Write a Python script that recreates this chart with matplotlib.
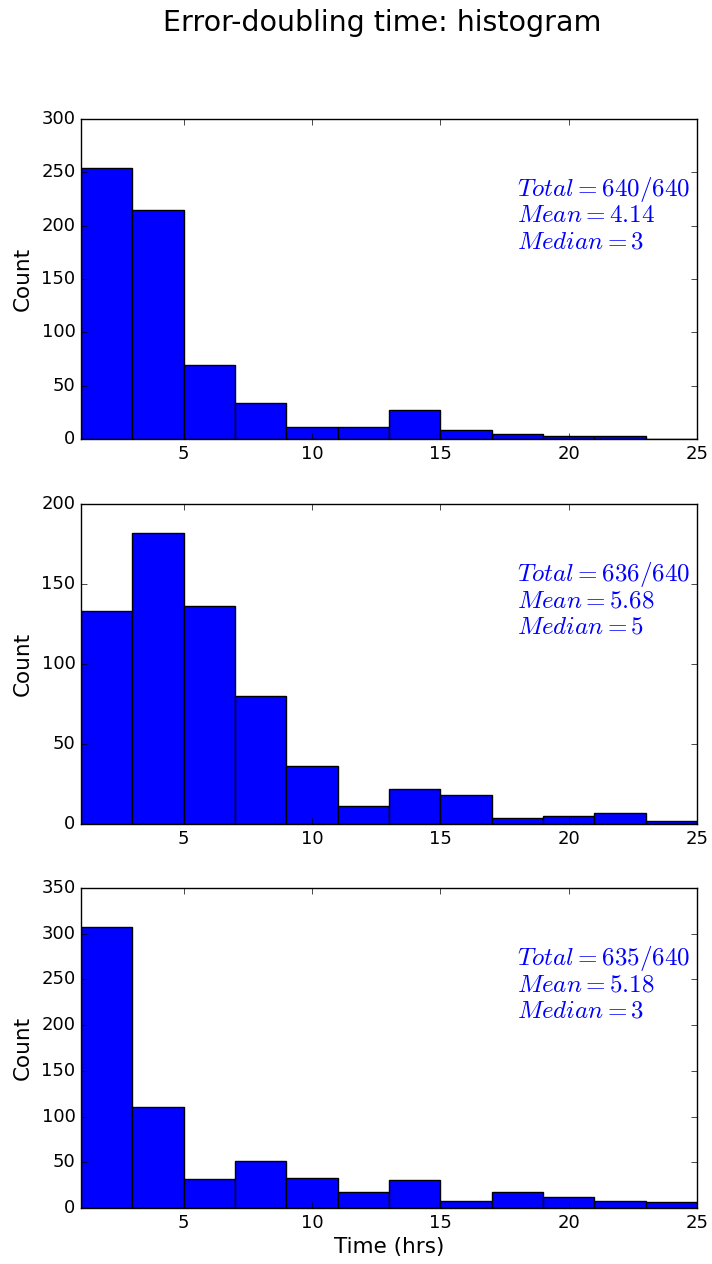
import numpy as np
import matplotlib
matplotlib.use("Agg")
import matplotlib.pyplot as plt

plt.style.use("classic")
plt.rcParams["figure.facecolor"] = "white"
plt.rcParams["savefig.facecolor"] = "white"
plt.rcParams["mathtext.fontset"] = "cm"

# Histogram bins (hours)
bin_edges = [1, 3, 5, 7, 9, 11, 13, 15, 17, 19, 21, 23, 25]

# Counts per bin for each experiment
counts_a = [254, 215, 69, 34, 11, 11, 27, 8, 5, 3, 3, 0]
counts_b = [133, 182, 136, 80, 36, 11, 22, 18, 4, 5, 7, 2]
counts_c = [307, 111, 32, 51, 33, 18, 31, 8, 17, 12, 8, 7]

n_total = 640
means = ["4.14", "5.68", "5.18"]
medians = ["3", "5", "3"]
y_limits = [300, 200, 350]

all_counts = [counts_a, counts_b, counts_c]

fig = plt.figure(figsize=(7.12, 12.64), dpi=100)
fig.suptitle("Error-doubling time: histogram", fontsize=20.5,
             x=382 / 712, y=0.993)

left, width = 81 / 712, 616 / 712
height = 320 / 1264
tops = [119, 504, 888]

edges = np.array(bin_edges, dtype=float)
centers = 0.5 * (edges[:-1] + edges[1:])

for i, counts in enumerate(all_counts):
    bottom = 1 - (tops[i] + 320) / 1264
    ax = fig.add_axes([left, bottom, width, height])
    ax.hist(centers, bins=edges, weights=counts, color="b", edgecolor="k",
            linewidth=1.0)
    ax.set_xlim(1, 25)
    ax.set_ylim(0, y_limits[i])
    ax.set_xticks([5, 10, 15, 20, 25])
    ax.tick_params(labelsize=13)
    ax.set_ylabel("Count", fontsize=15.5, labelpad=6)
    total = int(np.sum(counts))
    lines = [f"$Total={total}/{n_total}$",
             f"$Mean={means[i]}$",
             f"$Median={medians[i]}$"]
    for k, line in enumerate(lines):
        ax.text(0.708, 0.759 - 0.0813 * k, line, transform=ax.transAxes,
                color="b", fontsize=18, va="baseline", ha="left")
    if i == 2:
        ax.set_xlabel("Time (hrs)", fontsize=15.5, labelpad=4)

fig.savefig("out.png", dpi=100)
